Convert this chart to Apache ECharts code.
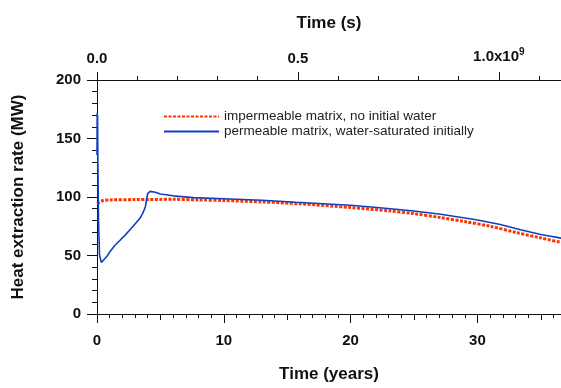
<!DOCTYPE html>
<html>
<head>
<meta charset="utf-8">
<script src="https://cdn.jsdelivr.net/npm/echarts@6/dist/echarts.min.js"></script>
<style>
  html, body { margin: 0; padding: 0; background: #fff; }
  #chart { width: 561px; height: 388px; }
</style>
</head>
<body>
<div id="chart"></div>
<script>
// seconds per year, used to line the top axis up with the bottom one
const SEC_PER_YEAR = 3.15576e7;
const maxYears = 36.59;

const seriesNames = [
  "impermeable matrix, no initial water",
  "permeable matrix, water-saturated initially",
];

// impermeable matrix (red dotted)
const dryYears = [0, 0.5, 1, 3, 6, 8, 10, 13, 16, 20, 23, 25, 27, 29, 31, 33, 35, 36.6];
const dryRate = [94.5, 97, 97.5, 97.8, 98, 97.5, 97, 95.8, 94.2, 91, 88.2, 85.8, 82.6, 79, 75, 69.8, 65, 61.2];

// permeable matrix (blue)
const wetYears = [0, 0.015, 0.03, 0.045, 0.07, 0.12, 0.2, 0.35, 0.5, 0.8, 1.0, 1.4, 1.8, 2.2, 2.6, 3.0, 3.4, 3.6, 3.8, 3.9, 4.0, 4.2, 4.6, 5, 6, 7.6, 10, 13, 15.7, 20, 22.3, 25, 27.1, 29.9, 31.8, 33.4, 35, 36.6];
const wetRate = [136, 172, 138, 170, 130, 80, 50, 44, 44.5, 49.5, 53, 58.5, 62.8, 67.2, 72, 77, 82, 86, 91, 97, 103, 104.8, 104, 102.5, 101, 99.5, 98.5, 97.2, 95.5, 93, 90.8, 88, 85.3, 80.5, 76.5, 72, 68, 64.8];

const yTicks = [0, 200, 50];

const zip = (xs, ys) => xs.map((x, i) => [x, ys[i]]);

const chart = echarts.init(document.getElementById("chart"));

const font = "'Liberation Sans', Arial, Helvetica, sans-serif";
const axisColor = "#111";

const tickOnly = (extra) => Object.assign({
  type: "value",
  min: 0,
  axisLine: { show: false },
  axisLabel: { show: false },
  splitLine: { show: false },
}, extra);

const option = {
  animation: false,
  backgroundColor: "#fff",
  grid: { left: 97, right: 0, top: 80, bottom: 72 },
  legend: {
    orient: "vertical",
    left: 163,
    top: 109,
    padding: 0,
    itemWidth: 55,
    itemHeight: 10,
    itemGap: 0,
    itemStyle: { opacity: 0 },
    textStyle: { fontFamily: font, fontSize: 13.5, color: "#222", lineHeight: 15 },
    data: seriesNames,
  },
  xAxis: [
    {
      type: "value",
      position: "bottom",
      min: 0,
      max: maxYears,
      interval: 10,
      name: "Time (years)",
      nameLocation: "middle",
      nameGap: 52,
      nameTextStyle: { fontFamily: font, fontWeight: "bold", fontSize: 17, color: axisColor },
      axisLine: { lineStyle: { color: axisColor, width: 1 } },
      axisTick: { length: 9, lineStyle: { color: axisColor } },
      axisLabel: { margin: 19, fontFamily: font, fontWeight: "bold", fontSize: 15, color: axisColor, showMaxLabel: false },
      splitLine: { show: false },
    },
    tickOnly({ position: "bottom", max: maxYears, interval: 5, axisTick: { length: 6, lineStyle: { color: axisColor } } }),
    tickOnly({ position: "bottom", max: maxYears, interval: 1, axisTick: { length: 4, lineStyle: { color: axisColor } } }),
    {
      type: "value",
      position: "top",
      min: 0,
      max: maxYears * SEC_PER_YEAR,
      interval: 5e8,
      name: "Time (s)",
      nameLocation: "middle",
      nameGap: 48,
      nameTextStyle: { fontFamily: font, fontWeight: "bold", fontSize: 17, color: axisColor },
      axisLine: { lineStyle: { color: axisColor, width: 1 } },
      axisTick: { length: 8, lineStyle: { color: axisColor } },
      axisLabel: {
        margin: 14,
        fontFamily: font,
        fontWeight: "bold",
        fontSize: 15,
        color: axisColor,
        showMaxLabel: false,
        formatter: (v) => {
          if (v === 0) return "0.0";
          if (Math.abs(v - 1e9) < 1) return "1.0x10{sup|9}";
          return (v / 1e9).toFixed(1);
        },
        rich: {
          sup: { fontFamily: font, fontWeight: "bold", fontSize: 10, color: axisColor, padding: [0, 0, 9, 0] },
        },
      },
      splitLine: { show: false },
    },
    tickOnly({ position: "top", max: maxYears * SEC_PER_YEAR, interval: 1e8, axisTick: { length: 4, lineStyle: { color: axisColor } } }),
  ],
  yAxis: {
    type: "value",
    min: yTicks[0],
    max: yTicks[1],
    interval: yTicks[2],
    offset: 2,
    name: "Heat extraction rate (MW)",
    nameLocation: "middle",
    nameGap: 68,
    nameTextStyle: { fontFamily: font, fontWeight: "bold", fontSize: 17, color: axisColor },
    axisLine: { show: true, lineStyle: { color: axisColor, width: 1 } },
    axisTick: { show: true, length: 10, lineStyle: { color: axisColor } },
    minorTick: { show: true, splitNumber: 5, length: 5, lineStyle: { color: axisColor } },
    axisLabel: { margin: 14, fontFamily: font, fontWeight: "bold", fontSize: 15, color: axisColor },
    splitLine: { show: false },
  },
  series: [
    {
      name: seriesNames[0],
      type: "line",
      xAxisIndex: 0,
      data: zip(dryYears, dryRate),
      smooth: 0.3,
      symbol: "none",
      z: 2,
      lineStyle: { color: "#ff3300", width: 3, type: [3, 1.5] },
      itemStyle: { color: "#ff3300" },
    },
    {
      name: seriesNames[1],
      type: "line",
      xAxisIndex: 0,
      data: zip(wetYears, wetRate),
      symbol: "none",
      z: 3,
      lineStyle: { color: "#1040c0", width: 1.6 },
      itemStyle: { color: "#1040c0" },
    },
  ],
};

chart.setOption(option);
</script>
</body>
</html>
